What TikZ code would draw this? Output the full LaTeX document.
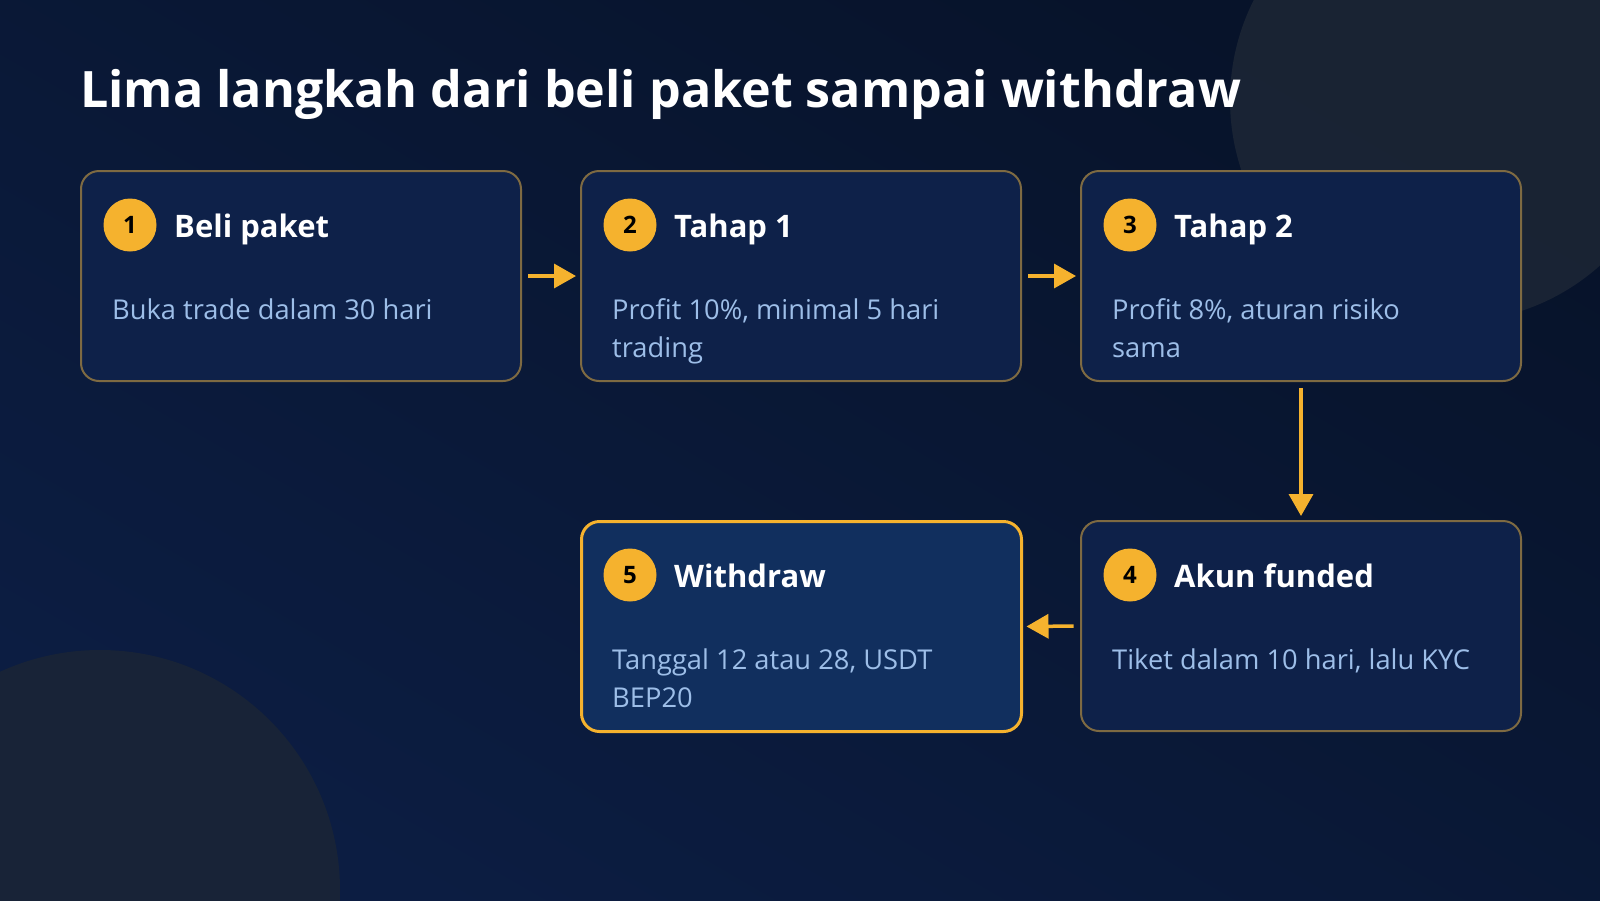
\documentclass[tikz,border=0pt]{standalone}
\usepackage{fontspec}
\setmainfont{Open Sans}
\usetikzlibrary{arrows.meta,calc}
\definecolor{bgA}{HTML}{07132A}
\definecolor{bgB}{HTML}{0C1D42}
\definecolor{blob}{HTML}{1B2535}
\definecolor{boxfill}{HTML}{0E2149}
\definecolor{boxfillhi}{HTML}{112F5E}
\definecolor{boxline}{HTML}{7E6A42}
\definecolor{gold}{HTML}{F5B22E}
\definecolor{bodytxt}{HTML}{9DBEE8}
\tikzset{
  stepbox/.style={draw=boxline, line width=2pt, fill=boxfill, rounded corners=18pt,
    minimum width=440pt, minimum height=210pt, inner sep=0pt, anchor=north west},
  stephi/.style={stepbox, draw=gold, line width=3pt, fill=boxfillhi},
  numdot/.style={circle, fill=gold, minimum size=53pt, inner sep=0pt, text=black,
    font=\fontsize{24}{28}\selectfont\bfseries},
  headtxt/.style={anchor=base west, inner sep=0pt, text=white,
    font=\fontsize{31}{36}\selectfont\bfseries},
  bodytext/.style={anchor=base west, inner sep=0pt, text=bodytxt, align=left,
    font=\fontsize{27.3}{38}\selectfont},
  flow/.style={draw=gold, line width=3.5pt, -{Triangle[length=22pt,width=24pt]},
    shorten <=6pt, shorten >=4pt}
}
\begin{document}
\begin{tikzpicture}[x=1pt,y=-1pt]
\shade[shading=axis, left color=bgA, right color=bgB, shading angle=-30] (0,0) rectangle (1600,900);
\useasboundingbox (0,0) rectangle (1600,900);
\begin{scope}
\clip (0,0) rectangle (1600,900);
\fill[blob, opacity=0.9] (1452,100) circle (222);
\fill[blob, opacity=0.8] (100,890) circle (240);
\end{scope}
\node[anchor=base west, inner sep=0pt, text=white, font=\fontsize{50.2}{60}\selectfont\bfseries] (title) at (80,107.5) {Lima langkah dari beli paket sampai withdraw};

\node[stepbox] (b1) at (80,170) {};
\node[stepbox] (b2) at (580,170) {};
\node[stepbox] (b3) at (1080,170) {};
\node[stepbox] (b4) at (1080,520) {};
\node[stephi] (b5) at (580,520) {};

\foreach \b/\n/\h/\y/\t in {b1/1/Beli paket/149/Buka trade dalam 30 hari,
  b2/2/Tahap 1/187/{Profit 10\%, minimal 5 hari\\trading},
  b3/3/Tahap 2/187/{Profit 8\%, aturan risiko\\sama},
  b4/4/Akun funded/149/{Tiket dalam 10 hari, lalu KYC},
  b5/5/Withdraw/187/{Tanggal 12 atau 28, USDT\\BEP20}}{
  \node[numdot] (\b n) at ($(\b.north west)+(50,55)$) {\n};
  \node[headtxt] (\b h) at ($(\b.north west)+(94,67)$) {\h};
  \node[bodytext] (\b t) at ($(\b.north west)+(32,\y)$) {\t};
}

\draw[flow] (b1.east) -- (b2.west);
\draw[flow] (b2.east) -- (b3.west);
\draw[flow] (b3.south) -- (b4.north);
\draw[flow, shorten <=6.5pt, shorten >=3.5pt] (b4.west) -- (b5.east);
\end{tikzpicture}
\end{document}
